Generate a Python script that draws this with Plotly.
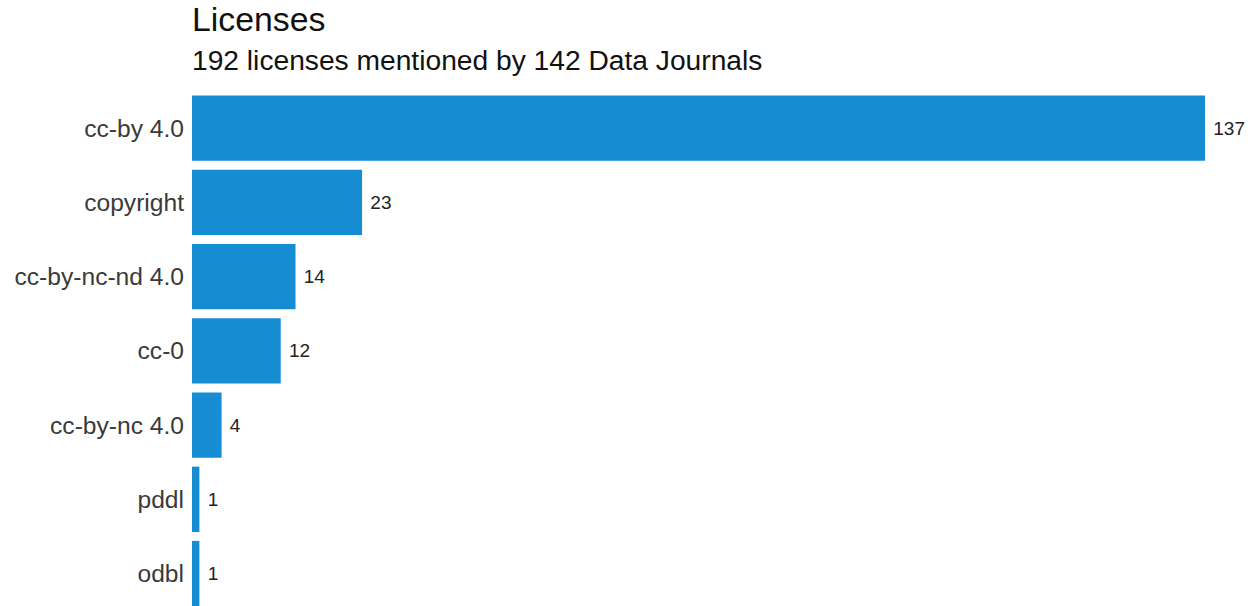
import plotly.graph_objects as go

licenses = ["cc-by 4.0", "copyright", "cc-by-nc-nd 4.0", "cc-0", "cc-by-nc 4.0", "pddl", "odbl"]
counts = [137, 23, 14, 12, 4, 1, 1]
title_text = "Licenses"
subtitle_text = "192 licenses mentioned by 142 Data Journals"

W, H = 1256, 606
top = 91.4
plot_h = H - top
plot_w = W - 192

fig = go.Figure(go.Bar(
    x=counts, y=licenses, orientation="h",
    marker=dict(color="#168dd2", line=dict(width=0)),
    text=[" " + str(c) for c in counts],
    textposition="outside",
    textfont=dict(family="Liberation Sans, Arial, sans-serif", size=19, color="#222222"),
    cliponaxis=False,
    hoverinfo="skip",
))

fig.update_layout(
    width=W, height=H,
    margin=dict(l=192, r=0, t=top, b=0),
    paper_bgcolor="white", plot_bgcolor="white",
    bargap=0.12,
    showlegend=False,
    font=dict(family="Liberation Sans, Arial, sans-serif"),
    xaxis=dict(range=[0, plot_w / (1013 / 137)], visible=False, fixedrange=True),
    yaxis=dict(
        type="category", categoryorder="array", categoryarray=licenses,
        range=[6.5 - (610.7 - 606) / 74.2, -0.5],
        showgrid=False, zeroline=False, showline=False, ticks="",
        ticklabelstandoff=7,
        tickfont=dict(size=24.6, color="#3a3a3a"),
    ),
    annotations=[
        dict(text=title_text, xref="paper", yref="paper", x=-2.5 / plot_w, y=(H - 19.5) / plot_h,
             xanchor="left", yanchor="middle", showarrow=False,
             font=dict(size=33.8, color="#111111")),
        dict(text=subtitle_text, xref="paper", yref="paper", x=-2.5 / plot_w, y=(H - 60) / plot_h,
             xanchor="left", yanchor="middle", showarrow=False,
             font=dict(size=28.2, color="#111111")),
    ],
)

fig.write_html("out.html")
